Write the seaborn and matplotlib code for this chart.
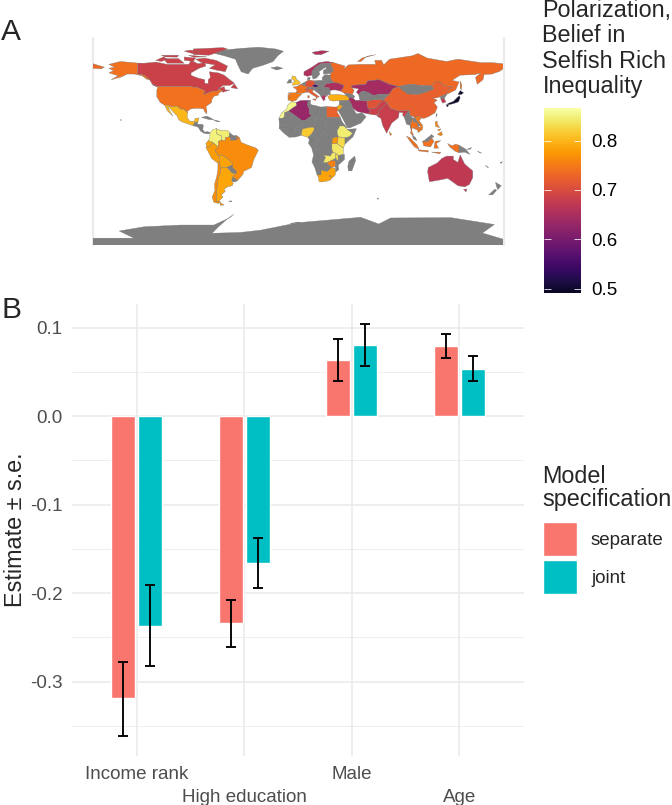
import pandas as pd
import matplotlib
matplotlib.use("Agg")
import matplotlib.pyplot as plt
from matplotlib.colors import Normalize, ListedColormap
from matplotlib.cm import ScalarMappable
import seaborn as sns

# panel B values
terms = ["Income rank", "High education", "Male", "Age"]
specs = ["separate", "joint"]
est_separate = [-0.319, -0.234, 0.0633, 0.079]
est_joint = [-0.2366, -0.166, 0.080, 0.0535]
low_separate = [-0.361, -0.261, 0.040, 0.066]
high_separate = [-0.2776, -0.208, 0.087, 0.0927]
low_joint = [-0.282, -0.194, 0.056, 0.0395]
high_joint = [-0.191, -0.138, 0.104, 0.068]
y_major = [-0.3, -0.2, -0.1, 0.0, 0.1]
y_minor = [-0.35, -0.25, -0.15, -0.05, 0.05]
bar_colors = ["#F8766D", "#00BFC4"]

# panel A outlines (lon, lat)
GREENLAND = [(-73,78),(-66,81),(-50,82.5),(-35,83.5),(-20,82),(-13,80),(-18,76),(-22,71),(-30,68),(-40,65),(-44,60),(-50,62),(-53,68),(-55,73),(-65,76)]
CANADA = [(-141,69.6),(-135,69.5),(-125,70.5),(-115,68.5),(-108,68.5),(-96,68.5),(-94,72),(-88,69),(-82,70),(-81,67),(-87,65),(-94,61),(-94,58.8),(-88,56.5),(-82,55),(-82,52),(-79,51.5),(-79,55),(-77,57),(-78,62),(-70,61),(-65,59),(-60,55),(-56,52),(-60,50),(-66,50),(-70,47),(-65,49),(-64,46),(-60,46),(-66,44),(-67,45),(-69,47),(-71,45),(-75,45),(-79,43.5),(-83,42),(-82,45.5),(-88,48),(-95,49),(-123,49),(-128,51),(-130,54.5),(-135,59),(-141,60)]
BAFFIN = [(-82,74),(-72,72),(-62,67),(-64,62),(-72,63.5),(-78,65),(-73,68),(-85,70),(-90,73)]
VICTORIA = [(-118,73.5),(-105,73.5),(-100,69.5),(-115,69.5)]
ELLESMERE = [(-92,77),(-78,76.5),(-62,82),(-66,83.2),(-92,82)]
AXEL = [(-100,80),(-92,77.8),(-86,80),(-95,81)]
BANKS = [(-125,72),(-118,75),(-115,73),(-120,71)]
DEVON = [(-96,76.5),(-80,75),(-92,74.8)]
MELVILLE = [(-120,76.5),(-105,76.5),(-106,74.8),(-117,75)]
SOMERSET = [(-100,75),(-90,74),(-92,71),(-100,72)]
NEWFOUNDLAND = [(-59,48),(-56,51.5),(-53,47)]
VANCOUVER = [(-128,50.5),(-125,50),(-123.5,48.5)]
USA = [(-123,49),(-95,49),(-88,48),(-82,45.5),(-83,42),(-79,43.5),(-75,45),(-71,45),(-69,47),(-67,45),(-70,43),(-70,41.5),(-74,40.5),(-76,37),(-76,35),(-81,31.5),(-80,27),(-80.5,25),(-82,27),(-83,29.5),(-89,30),(-94,29.5),(-97,27.5),(-97,26),(-101,29.5),(-103,29),(-106,31.7),(-111,31.3),(-114.7,32.7),(-117,32.5),(-121,35),(-124,40),(-124,46)]
ALASKA = [(-141,69.6),(-156,71),(-166,68.5),(-161,66),(-166,65),(-162,63),(-166,61),(-158,58.5),(-164,55),(-155,57.5),(-150,60),(-144,60),(-137,58.5),(-133,55.5),(-130,55),(-135,59),(-141,60)]
HAWAII = [(-156,20),(-155,19.8),(-155.5,19)]
MEXICO = [(-117,32.5),(-114.7,32.7),(-111,31.3),(-106,31.7),(-103,29),(-101,29.5),(-97,26),(-97.5,22),(-95,18.5),(-91,18.7),(-90.5,21),(-87,21.5),(-88,18),(-91,17.5),(-92,14.5),(-96,16),(-102,18),(-105,20),(-106,23),(-109,26),(-112.5,30),(-114.7,31.5),(-110,23),(-112,25),(-115,28)]
GUATEMALA = [(-92,14.5),(-91,17.5),(-88,18),(-88.5,16),(-89,14)]
HONDURAS = [(-89,14),(-88.5,16),(-84,15.8),(-83.3,15),(-83.7,11),(-85.7,10),(-87.5,13)]
PANAMA = [(-83.7,11),(-82,9),(-79.5,9.5),(-77.3,8.5),(-78,7.5),(-80,7.5),(-83,8.2),(-85.7,10)]
CUBA = [(-85,22),(-80,23),(-74,20),(-78,20)]
HISPANIOLA = [(-74.5,19.8),(-68.5,18.5),(-71,18)]
COLOMBIA = [(-77.3,8.5),(-75,11),(-71.5,12.4),(-72,9),(-71,7),(-67.5,6),(-67,2),(-70,1),(-70,-4),(-72,-2.5),(-75,0),(-79,1.5),(-77.5,4),(-77.5,7)]
VENEZUELA = [(-71.5,12),(-68,10.5),(-62,10.5),(-60,8.5),(-60.7,5),(-64,4),(-64,1.5),(-67,2),(-67.5,6),(-71,7),(-72,9)]
GUYANA = [(-60,8.5),(-57,6),(-54,6),(-54,2.2),(-56,2),(-59,1.5),(-60,5),(-60.7,5)]
FR_GUIANA = [(-54,6),(-51.7,4.3),(-54,2.2)]
ECUADOR = [(-79,1.5),(-75,0),(-75.5,-1.5),(-78.5,-4.5),(-80.3,-3.4),(-81,-1)]
PERU = [(-81,-4.5),(-80.3,-3.4),(-78.5,-4.5),(-75.5,-1.5),(-75,0),(-72,-2.5),(-70,-4),(-73,-7),(-70.5,-11),(-69,-12.5),(-69.5,-17.5),(-70.4,-18.3),(-76,-14),(-79,-8)]
BRAZIL = [(-60,5),(-59,1.5),(-56,2),(-54,2.2),(-51.7,4.3),(-50,0),(-44,-2.5),(-37,-5),(-35,-7),(-39,-15),(-41,-22),(-48,-25.5),(-48.5,-28),(-53.4,-33.7),(-57.5,-30),(-54.5,-27),(-54.5,-25),(-58,-22),(-58,-18),(-60,-16),(-65,-12),(-70.5,-11),(-73,-7),(-70,-4),(-70,1),(-67,2),(-64,1.5),(-64,4)]
BOLIVIA = [(-70.5,-11),(-65,-12),(-60,-16),(-58,-18),(-58,-20),(-62.6,-22),(-66,-22),(-68,-22.8),(-69.5,-17.5),(-69,-12.5)]
PARAGUAY = [(-58,-20),(-58,-22),(-54.5,-25),(-54.5,-27),(-58,-27),(-60,-24.5),(-62.6,-22)]
URUGUAY = [(-57.5,-30),(-53.4,-33.7),(-56,-34.8),(-58.4,-34)]
ARGENTINA = [(-66,-22),(-62.6,-22),(-60,-24.5),(-58,-27),(-54.5,-27),(-57.5,-30),(-58.4,-34),(-57,-36),(-58,-38),(-62,-39),(-65,-41),(-64,-43),(-67.5,-46),(-66,-48),(-69,-51),(-68.4,-52.4),(-72,-52),(-72,-48),(-71.5,-42),(-71,-36),(-70,-31),(-68.5,-27),(-68,-22.8)]
FUEGO = [(-68.5,-52.7),(-65,-55),(-68.5,-55)]
CHILE = [(-70.4,-18.3),(-69.5,-17.5),(-68,-22.8),(-68.5,-27),(-70,-31),(-71,-36),(-71.5,-42),(-72,-48),(-72,-52),(-68.4,-52.4),(-70,-53.5),(-74,-52.5),(-75.5,-48),(-73,-42),(-73.5,-37),(-71.5,-30),(-70.5,-24)]
FALKLANDS = [(-61,-51.5),(-58,-51.3),(-59,-52.3)]
ANTARCTICA = [(-180,-90),(-180,-84),(-144,-84),(-157,-77.7),(-135,-74),(-103,-72.5),(-74,-72.5),(-60,-66),(-56.5,-63),(-62,-67),(-70,-74),(-75.5,-79.7),(-50.7,-79),(-33,-77),(2,-70),(-7,-71),(54.7,-65.7),(70.6,-71.6),(81,-66.3),(133.7,-66),(172,-72),(161.5,-79.5),(180,-85),(180,-90)]
MOROCCO = [(-6,35.8),(-2,35),(-1.2,32.5),(-5,30),(-8.7,27.3),(-12,26),(-12,23.4),(-13,21.3),(-17,21),(-14.5,26),(-10,29.5),(-9.5,32.5)]
ALGERIA = [(-2,35),(2,36.8),(8.6,37),(8.3,32.5),(9.5,30),(10,25),(12,23.5),(6,19.2),(3.3,19),(-4.8,25),(-8.7,27.3),(-5,30),(-1.2,32.5)]
TUNISIA = [(8.6,37),(11,37),(10.5,34),(11.5,33),(9.5,30),(8.3,32.5)]
LIBYA = [(11.5,33),(15,32.3),(20,31),(25,31.5),(25,20),(24,19.5),(15,23),(12,23.5),(10,25),(9.5,30)]
EGYPT = [(25,31.5),(32,31),(34.2,31.3),(35,28),(33.8,27),(36.9,22),(25,22)]
SUDAN = [(25,22),(36.9,22),(38.5,18),(36.5,14.5),(34,10),(35,5),(30,3.7),(27,5),(23,9),(22.5,13),(24,15.5),(24,20)]
MAURITANIA = [(-17,21),(-13,21.3),(-12,23.4),(-12,26),(-8.7,27.3),(-4.8,25),(-6,25),(-5.5,15.5),(-12,15),(-16.5,16)]
MALI = [(-12,15),(-5.5,15.5),(-6,25),(-4.8,25),(3.3,19),(4,15),(0,15),(-5,10),(-8,10),(-11.5,12.5)]
NIGER = [(3.3,19),(6,19.2),(12,23.5),(15,23),(15.5,16),(13.5,13.5),(9,13),(3.5,11.7),(2,12),(0,15),(4,15)]
CHAD = [(15,23),(24,19.5),(24,15.5),(22.5,13),(23,9),(19,9),(15.5,7.5),(13.5,13.5),(15.5,16)]
SENEGAL = [(-16.5,16),(-12,15),(-11.5,12.5),(-16.8,12.5)]
GUINEA = [(-16.8,12.5),(-11.5,12.5),(-8,10),(-8,4.5),(-13,8.5)]
BURKINA = [(-5,10),(0,15),(2,12),(0,11)]
GHANA = [(-8,10),(-5,10),(0,11),(2,12),(3.5,11.7),(2.7,6.3),(-2,4.8),(-8,4.5)]
NIGERIA = [(2.7,6.3),(3.5,11.7),(9,13),(13.5,13.5),(14.5,11.5),(11.5,7),(8.5,4.5),(5,5.5)]
CAMEROON = [(8.5,4.5),(11.5,7),(14.5,11.5),(13.5,13.5),(15.5,7.5),(15,2),(9.7,2.3)]
CAR = [(15.5,7.5),(19,9),(23,9),(27,5),(18.5,3.5),(15,2)]
GABON = [(9.7,2.3),(15,2),(18.5,3.5),(16,-3),(12,-5),(9,-1)]
DRC = [(18.5,3.5),(27,5),(30,3.7),(29.5,-1),(29.5,-6),(30.5,-8.5),(28,-12),(22,-11),(21.5,-7),(16,-6),(12,-6),(12,-5),(16,-3)]
ANGOLA = [(12,-6),(16,-6),(21.5,-7),(22,-11),(24,-13),(22,-17.5),(12,-17),(13.5,-11)]
NAMIBIA = [(12,-17),(22,-17.5),(25,-17.8),(20,-18.5),(20,-28.5),(16.5,-28.5),(14.5,-22)]
BOTSWANA = [(20,-18.5),(25,-17.8),(29,-22),(25.5,-25.5),(20,-24.5)]
ZAMBIA = [(22,-11),(28,-12),(30.5,-8.5),(33,-9.5),(33,-14),(30,-15.5),(25,-17.8),(22,-17.5),(24,-13)]
ZIMBABWE = [(25,-17.8),(30,-15.5),(33,-16.5),(32.5,-21),(29,-22)]
TANZANIA = [(29.5,-1),(34,-1),(39.5,-5),(39.5,-10.5),(35,-11.5),(33,-9.5),(30.5,-8.5),(29.5,-6)]
KENYA = [(34,-1),(35,5),(41,4),(41,-1.5),(39.5,-5)]
UGANDA = [(30,3.7),(35,5),(34,-1),(29.5,-1)]
ETHIOPIA = [(34,10),(36.5,14.5),(40,14.5),(43,11.5),(48,8),(45,5),(41,4),(35,5)]
SOMALIA = [(43,11.5),(51,12),(48,5),(41,-1.5),(41,4),(45,5),(48,8)]
ERITREA = [(36.5,14.5),(38.5,18),(43,12.5),(40,14.5)]
MALAWI = [(33,-9.5),(35,-11.5),(35,-17),(33,-14)]
MOZAMBIQUE = [(35,-11.5),(40.5,-10.5),(40.5,-15),(35,-20),(35.5,-24),(32.8,-26),(32.5,-21),(33,-16.5),(30,-15.5),(33,-14),(35,-17)]
SOUTH_AFRICA = [(16.5,-28.5),(20,-28.5),(20,-24.5),(25.5,-25.5),(29,-22),(32,-22.5),(32.8,-26),(32.5,-28.5),(28,-33),(25,-34),(20,-34.8),(18,-34),(18,-31)]
LESOTHO = [(27.5,-29),(29,-29.5),(28,-30.5)]
MADAGASCAR = [(49.5,-12),(50.3,-16),(47,-25),(44,-25),(43.5,-21),(44.5,-16.5)]
SPAIN = [(-9,43.5),(-2,43.5),(3,42.3),(0,39.5),(-2,36.8),(-5.5,36),(-7.5,37),(-7,42)]
PORTUGAL = [(-9,42),(-7,42),(-7.5,37),(-9,37)]
FRANCE = [(-4.5,48.5),(-1.5,49),(2.5,51),(6,49.7),(8,49),(8,47.7),(6,46.3),(7,45.8),(7,44),(3,43),(-2,43.5),(-1,46)]
UK = [(-5,50),(1.4,51.2),(1.7,52.8),(-2,56),(-2,57.5),(-5,58.5),(-6,56),(-3,54),(-5,52)]
IRELAND = [(-10,52),(-6,52.2),(-6,55),(-8,55.3)]
ICELAND = [(-24,65.5),(-18,66.5),(-13.5,65),(-19,63.5)]
GERMANY = [(6,51),(7,53.5),(9,54.8),(14,54),(15,51),(12.5,50),(13.5,48.5),(8,47.7),(8,49),(6,49.7)]
BENELUX = [(2.5,51),(4,52),(7,53.5),(6,51),(6,49.7)]
SWITZERLAND = [(6,46.3),(8,47.7),(10.5,47),(9,45.8),(7,45.8)]
ITALY = [(7,44),(7,45.8),(9,45.8),(10.5,47),(13.7,46.5),(12.3,44.5),(16,41.8),(18.5,40),(16.5,39.5),(16,38),(15.5,40),(12,42),(9,44.2)]
SICILY = [(12.5,38),(15.5,38.2),(15,36.7)]
SARDINIA = [(8.3,41),(9.7,41),(9.5,39),(8.5,39)]
CZECHIA = [(12.5,50),(15,51),(18.8,49.5),(17,48.7),(13.5,48.5)]
POLAND = [(14,54),(19,54.5),(23.5,54),(24,50.5),(22.5,49),(18.8,49.5),(15,51)]
AUSTRIA = [(8,47.7),(13.5,48.5),(17,48.7),(18.8,49.5),(22.5,49),(22.5,48.5),(22,46),(18,46),(13.7,46.5),(10.5,47)]
BALKANS = [(13.7,46.5),(18,46),(22,46),(22.5,44),(23,41.5),(20,40),(19,42),(15,45)]
ROMANIA = [(22.5,48.5),(27,48),(28,45.5),(28,42),(23,41.5),(22.5,44),(22,46)]
GREECE = [(20,40),(23,41.5),(26,41),(23.5,40),(23.5,37.5),(22,36.5),(21,38.5)]
NORWAY = [(5,59),(5,62),(12,66),(18,70),(25,71),(31,70),(28,69.5),(20,69),(15,66),(12,62),(12,59),(8,58)]
SWEDEN = [(12,59),(12,62),(15,66),(20,69),(24,66),(18,62),(19,60),(16,56.5),(13,55.5)]
FINLAND = [(20,69),(28,69.5),(31,63),(28,60.5),(22,60),(22,63),(25,65),(24,66)]
DENMARK = [(8,55),(8.5,57),(10.5,57),(10,55)]
SVALBARD = [(12,79),(20,80.5),(27,80),(20,77),(15,77)]
NOVAYA = [(52,71),(56,74),(68,77),(60,75.5),(55,71)]
RUSSIA = [(28,69.5),(31,70),(41,67),(40,64.5),(44,68),(54,68.5),(68,68.5),(67,72),(73,72),(75,68),(80,73),(100,76),(105,78),(113,74),(130,71),(140,73),(160,70),(170,70),(180,69),(180,65),(177,62.5),(170,60),(163,59.5),(162,55),(157,51),(155.5,57),(160,61),(155,59.5),(142,59),(135,54.5),(141,53),(138,46),(132,43),(130.5,42.5),(131,45),(135,48.5),(127,50),(125,53),(120,53),(117,49.5),(108,50),(98,51),(88,49),(80,51),(71,55),(61,54),(59,51),(47,50),(47,48),(49,46),(47.5,42),(40,43.5),(37,45),(39,47),(40,50),(35,52),(31,52.5),(28,56),(28,60),(31,63)]
CHUKOTKA = [(-180,65),(-173,64.5),(-170,66),(-175,67.5),(-180,69)]
SAKHALIN = [(142,54),(143.5,50),(143,46),(142,48)]
UKRAINE = [(24,51.5),(31,52.5),(35,52),(40,50),(39,47),(37,45),(33,46),(30,46),(28,45.5),(27,48),(22.5,48.5),(22.5,49),(24,50.5)]
BELARUS = [(23.5,54),(28,56),(31,52.5),(24,51.5),(24,50.5)]
BALTICS = [(21,54.5),(23.5,54),(28,56),(28,59),(23.5,59.5),(21,57)]
TURKEY = [(26,40),(28,42),(35,42),(42,41.2),(44.5,39.5),(44.5,37),(36,36.5),(30,36.3),(27.5,37)]
CAUCASUS = [(40,43.5),(47.5,42),(49.5,40.5),(48.5,38.5),(44.5,39.5),(42,41.2)]
SAUDI = [(35,28),(37,29.5),(39,32),(46,29),(48,30),(51,25),(56,26),(59.5,22.5),(55,17),(45,12.7),(43,13),(39,21)]
IRAQ = [(36,36.5),(44.5,37),(46,35),(48,30),(46,29),(39,32),(36,33)]
JORDAN = [(34.2,31.3),(36,33),(39,32),(37,29.5),(35,28)]
IRAN = [(44.5,39.5),(48.5,38.5),(50,37),(54,37),(60,36.5),(61,31),(63,27),(61.5,25),(57,26),(52,27),(48,30),(46,35),(44.5,37)]
AFGHANISTAN = [(60,36.5),(65,37.3),(71,38),(74.5,37),(71,34),(69,31),(66,29.5),(61,30),(61,31)]
PAKISTAN = [(61.5,25),(63,27),(61,30),(66,29.5),(69,31),(71,34),(74.5,37),(78,35),(74.5,31),(70,28),(71,24.5),(67,24)]
INDIA = [(78,35),(74.5,31),(70,28),(71,24.5),(68.5,23.5),(72.5,21),(74,15),(77.5,8),(80,13),(82,17),(87,21),(88,22),(88.5,26.5),(92,26),(91.5,24),(93,22),(94,24),(97,28),(92,28),(88,27.5),(81,30),(79,32.5)]
SRI_LANKA = [(80,9.5),(82,7),(80.5,6)]
KAZAKHSTAN = [(47,48),(47,50),(59,51),(61,54),(71,55),(80,51),(88,49),(83,47),(80,42.5),(70,42),(66,41),(61,44),(56,45),(53,42),(51,44),(53,47)]
UZBEKISTAN = [(53,42),(56,45),(61,44),(66,41),(70,42),(80,42.5),(74.5,37),(71,38),(65,37.3),(60,36.5),(54,37)]
MONGOLIA = [(88,49),(98,51),(108,50),(117,49.5),(119,47),(112,44),(105,42),(96,42.5),(91,46)]
CHINA = [(74.5,37),(80,42.5),(83,47),(88,49),(91,46),(96,42.5),(105,42),(112,44),(119,47),(117,49.5),(120,53),(125,53),(127,50),(135,48.5),(131,45),(130.5,42.5),(124.5,40),(121,39),(118,39),(122,37),(119,35),(122,31),(120,26),(114,22.5),(110,21),(108,21.5),(106,23),(102,22),(98,24),(97,28),(92,28),(88,27.5),(81,30),(79,32.5),(78,35)]
TAIWAN = [(121,25),(122,25),(120.8,22)]
N_KOREA = [(124.5,40),(130.5,42.5),(128,38.5),(125,38)]
S_KOREA = [(125,38),(128,38.5),(129.5,35.5),(126.5,34.5)]
HONSHU = [(131,34),(136,36),(140,40),(141.5,41),(142,39),(140.5,35.5),(136,34),(132,33)]
HOKKAIDO = [(140,42),(142,45.5),(145,43.5),(143,42)]
KYUSHU = [(130,33.5),(132,33),(131,31),(130,32)]
MYANMAR = [(93,22),(94,24),(97,28),(98,24),(101,21),(98.5,17),(99,11),(98,15),(95,16),(94,19)]
LAOS = [(101,21),(102,22),(104,19),(107,15),(105,14),(104,18),(101,17.5)]
THAILAND = [(98.5,17),(101,21),(101,17.5),(104,18),(105,14),(102,12),(100,13),(99.5,10),(101,6.5),(100,6.5),(98.5,8),(99,11)]
CAMBODIA = [(102,12),(105,14),(107,13),(105,10.5)]
VIETNAM = [(102,22),(106,23),(108,21.5),(106,19),(109,15),(109,11.5),(105,8.5),(105,10.5),(107,13),(107,15),(104,19)]
MALAYA = [(100,6.5),(103,4),(104,1.5),(101,3)]
SUMATRA = [(95,5.5),(98,4),(104,-2),(106,-6),(102,-4),(98,1)]
JAVA = [(105,-6.5),(114,-7),(114,-8.5),(106,-7.5)]
BORNEO = [(109,1),(114,1),(117,4),(119,1),(116,-4),(110,-3)]
SABAH = [(109,1),(111,2),(114,4.5),(117,7),(119,5),(117,4),(114,1)]
SULAWESI = [(119,-5),(120,1),(125,1.5),(121,-1),(123,-5)]
TIMOR = [(117,-8.5),(125,-8.5),(124,-10)]
PAPUA = [(131,-1),(135,-3),(138,-1.5),(141,-2.5),(141,-9),(138,-8),(133,-4)]
PNG = [(141,-2.5),(147,-6),(150.5,-10.5),(146,-8.5),(141,-9)]
NEW_BRITAIN = [(148,-6),(152,-4.5),(151,-6)]
SOLOMON = [(157,-7.5),(161,-9.5),(159,-9)]
CALEDONIA = [(164,-20),(167,-22),(166,-22)]
FIJI = [(177,-17.5),(179,-17),(178,-18.5)]
LUZON = [(120,18),(122,18.5),(122,16),(124,13),(120.5,14)]
VISAYAS = [(122,11),(125,12),(124,10)]
MINDANAO = [(122,7),(125.5,9.5),(126.5,7),(125,5.8)]
AUSTRALIA = [(114,-22),(122,-18),(126,-14),(130,-12),(136,-12),(136,-15),(140,-17.5),(142,-11),(146,-19),(153,-25),(153,-31),(150,-37),(146,-39),(140,-38),(136,-35),(131,-31.5),(124,-33),(115,-34.5),(113.5,-26)]
TASMANIA = [(145,-41),(148,-41),(147,-43.5)]
NZ_SOUTH = [(167,-46),(172.5,-41),(174,-42),(170.5,-46)]
NZ_NORTH = [(173,-35),(178,-38),(175,-41.5),(174,-39)]
KERGUELEN = [(69,-49),(70.5,-49),(70,-50)]

# polarization per outline, None = no data (grey)
canada_val = 0.685
usa_val = 0.74
russia_val = 0.735
japan_val = 0.50
indonesia_val = 0.74
australia_val = 0.67
map_shapes = [
    (GREENLAND, None), (CANADA, canada_val), (BAFFIN, canada_val), (VICTORIA, canada_val),
    (ELLESMERE, canada_val), (AXEL, canada_val), (BANKS, canada_val), (DEVON, canada_val),
    (MELVILLE, canada_val), (SOMERSET, canada_val),
    (NEWFOUNDLAND, canada_val), (VANCOUVER, canada_val), (USA, usa_val), (ALASKA, usa_val),
    (HAWAII, usa_val), (MEXICO, 0.80), (GUATEMALA, None), (HONDURAS, None), (PANAMA, None),
    (CUBA, None), (HISPANIOLA, None), (COLOMBIA, 0.85), (VENEZUELA, 0.845), (GUYANA, None),
    (FR_GUIANA, 0.74), (ECUADOR, 0.785), (PERU, 0.78), (BRAZIL, 0.765), (BOLIVIA, 0.785),
    (PARAGUAY, None), (URUGUAY, None), (ARGENTINA, 0.787), (FUEGO, 0.77), (CHILE, 0.765),
    (FALKLANDS, None), (ANTARCTICA, None), (MOROCCO, 0.855), (ALGERIA, 0.63), (TUNISIA, None),
    (LIBYA, None), (EGYPT, 0.725), (SUDAN, None), (MAURITANIA, None), (MALI, None), (NIGER, None),
    (CHAD, None), (SENEGAL, None), (GUINEA, None), (BURKINA, None), (GHANA, None), (NIGERIA, 0.815),
    (CAMEROON, None), (CAR, None), (GABON, None), (DRC, None), (ANGOLA, None), (NAMIBIA, None),
    (BOTSWANA, None), (ZAMBIA, 0.84), (ZIMBABWE, 0.755), (TANZANIA, 0.84), (KENYA, 0.83),
    (UGANDA, 0.775), (ETHIOPIA, 0.845), (SOMALIA, None), (ERITREA, None), (MALAWI, 0.83),
    (MOZAMBIQUE, None), (SOUTH_AFRICA, 0.785), (LESOTHO, None), (MADAGASCAR, None), (SPAIN, 0.75),
    (PORTUGAL, 0.75), (FRANCE, 0.74), (UK, 0.81), (IRELAND, None), (ICELAND, None), (GERMANY, 0.709),
    (BENELUX, None), (SWITZERLAND, 0.70), (ITALY, 0.72), (SICILY, 0.72), (SARDINIA, 0.72),
    (CZECHIA, 0.55), (POLAND, None), (AUSTRIA, None), (BALKANS, None), (ROMANIA, None),
    (GREECE, 0.66), (NORWAY, 0.655), (SWEDEN, None), (FINLAND, None), (DENMARK, None),
    (SVALBARD, 0.655), (NOVAYA, russia_val), (RUSSIA, russia_val), (CHUKOTKA, russia_val),
    (SAKHALIN, russia_val), (UKRAINE, 0.65), (BELARUS, None), (BALTICS, None), (TURKEY, 0.795),
    (CAUCASUS, None), (SAUDI, None), (IRAQ, None), (JORDAN, 0.79), (IRAN, 0.645),
    (AFGHANISTAN, 0.71), (PAKISTAN, 0.685), (INDIA, 0.68), (SRI_LANKA, 0.76), (KAZAKHSTAN, 0.645),
    (UZBEKISTAN, None), (MONGOLIA, None), (CHINA, 0.724), (TAIWAN, None), (N_KOREA, None),
    (S_KOREA, 0.67), (HONSHU, japan_val), (HOKKAIDO, japan_val), (KYUSHU, japan_val),
    (MYANMAR, None), (LAOS, None), (THAILAND, 0.74), (CAMBODIA, 0.74), (VIETNAM, 0.745),
    (MALAYA, None), (SUMATRA, indonesia_val), (JAVA, indonesia_val), (BORNEO, indonesia_val),
    (SABAH, None), (SULAWESI, indonesia_val), (TIMOR, indonesia_val), (PAPUA, indonesia_val),
    (PNG, None), (NEW_BRITAIN, None), (SOLOMON, None), (CALEDONIA, None), (FIJI, None),
    (LUZON, 0.76), (VISAYAS, 0.76), (MINDANAO, 0.76), (AUSTRALIA, australia_val),
    (TASMANIA, australia_val), (NZ_SOUTH, None), (NZ_NORTH, None), (KERGUELEN, None),
]
cbar_ticks = [0.5, 0.6, 0.7, 0.8]
cbar_min, cbar_max = 0.491, 0.866

sns.set_theme(style="white")
plt.rcParams["font.family"] = ["Liberation Sans", "DejaVu Sans"]

W, H = 672, 805
fig = plt.figure(figsize=(W / 100, H / 100), dpi=100)


def place(left, top, right, bottom):
    return [left / W, 1 - bottom / H, (right - left) / W, (bottom - top) / H]


# map
cmap = ListedColormap(sns.color_palette("inferno", 256)[15:])
norm = Normalize(cbar_min, cbar_max)
ax_map = fig.add_axes(place(93, 38, 503.5, 245))
for side in (-180, 180):
    ax_map.axvline(side, color="#EBEBEB", lw=1.6, clip_on=False, zorder=0)
for pts, val in map_shapes:
    lon, lat = zip(*pts)
    color = "#7F7F7F" if val is None else cmap(norm(val))
    ax_map.fill(lon, lat, facecolor=color, edgecolor="#757575", lw=0.25, zorder=2)
ax_map.set_xlim(-180, 180)
ax_map.set_ylim(-90, 91.6)
ax_map.axis("off")

# colourbar
cax = fig.add_axes(place(543.5, 108, 581, 293))
cb = fig.colorbar(ScalarMappable(norm=norm, cmap=cmap), cax=cax)
cb.outline.set_visible(False)
cb.set_ticks(cbar_ticks)
cb.set_ticklabels([f"{t:.1f}" for t in cbar_ticks])
cax.tick_params(length=0, pad=7.5, labelsize=13.5, labelcolor="black")
cax.hlines(cbar_ticks, 0, 0.2, color="white", lw=0.7, alpha=0.8)
cax.hlines(cbar_ticks, 0.8, 1, color="white", lw=0.7, alpha=0.8)
fig.text(542.5 / W, 1 - (-1) / H, "Polarization,\nBelief in\nSelfish Rich\nInequality",
         fontsize=16.8, va="top", ha="left", linespacing=1.13)

# bars
df = pd.DataFrame({
    "term": terms * 2,
    "spec": [specs[0]] * 4 + [specs[1]] * 4,
    "estimate": est_separate + est_joint,
})
ax = fig.add_axes(place(72, 304, 524, 756))
ax.set_axisbelow(True)
sns.barplot(data=df, x="term", y="estimate", hue="spec", order=terms, hue_order=specs,
            palette=bar_colors, saturation=1, width=0.5, gap=0.1, errorbar=None, ax=ax)
for offset, low, high in [(-0.125, low_separate, high_separate), (0.125, low_joint, high_joint)]:
    for i in range(len(terms)):
        mid = (low[i] + high[i]) / 2
        ax.errorbar(i + offset, mid, yerr=(high[i] - low[i]) / 2, color="black",
                    elinewidth=1.35, capsize=3.85, capthick=1.35, zorder=5)
ax.set_xlim(-0.6, 3.6)
ax.set_ylim(-0.384, 0.1266)
ax.set_yticks(y_major)
ax.set_yticks(y_minor, minor=True)
ax.set_yticklabels([f"{v:.1f}" for v in y_major])
ax.grid(True, which="major", color="#EBEBEB", lw=1.2)
ax.grid(True, which="minor", axis="y", color="#EBEBEB", lw=0.6)
ax.tick_params(which="both", length=0, labelsize=13.5, labelcolor="#4D4D4D")
ax.tick_params(axis="y", pad=7)
for i, tick in enumerate(ax.xaxis.get_major_ticks()):
    tick.set_pad(7.5 if i % 2 == 0 else 23.5)
sns.despine(ax=ax, left=True, bottom=True)
ax.set_xlabel("")
ax.set_ylabel("Estimate ± s.e.", fontsize=16.8, labelpad=2)

sns.move_legend(ax, "upper left", bbox_to_anchor=(522 / W, 1 - 444 / H), bbox_transform=fig.transFigure,
                title="Model\nspecification", frameon=False, fontsize=13.5, title_fontsize=16.8,
                handlelength=1.85, handleheight=2.41, labelspacing=0.2, handletextpad=0.73,
                alignment="left", borderpad=0.6)
leg = ax.get_legend()
leg.get_title().set_linespacing(1.0)
leg._legend_box.sep = 8.5

fig.text(1 / W, 1 - 32 / H, "A", fontsize=21.5, va="center", ha="left")
fig.text(1 / W, 1 - 310 / H, "B", fontsize=21.5, va="center", ha="left")

fig.savefig("out.png", dpi=100)
